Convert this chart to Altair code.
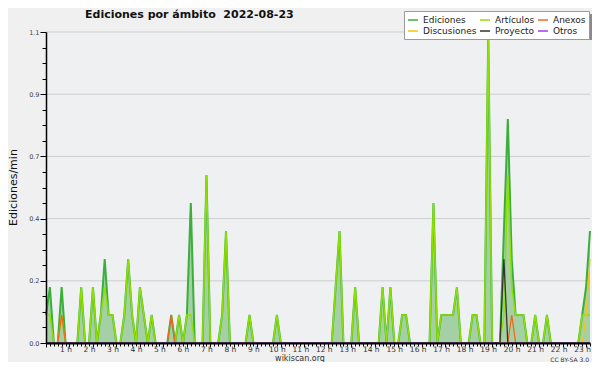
import altair as alt
import pandas as pd

# ---------------- data ----------------
TITLE = "Ediciones por ámbito\u00a0 2022-08-23"
Y_TITLE = "Ediciones/min"
FOOT_CENTER = "wikiscan.org"
FOOT_RIGHT = "CC BY-SA 3.0"

series_names = ["Ediciones", "Artículos", "Anexos", "Discusiones", "Proyecto", "Otros"]
series_colors = ["#3aaf3a", "#8fe000", "#f06a1e", "#f5c518", "#333333", "#9b3cf0"]

# 10-minute bins, 00:00 .. 23:10
minutes = list(range(0, 1400, 10))

ediciones = [
    0.1, 0.2, 0, 0, 0.2, 0,      # 0 h
    0, 0, 0, 0.2, 0, 0,          # 1 h
    0.2, 0, 0.1, 0.3, 0.1, 0.1,  # 2 h
    0, 0, 0.1, 0.3, 0.1, 0,      # 3 h
    0.2, 0.1, 0, 0.1, 0, 0,      # 4 h
    0, 0, 0.1, 0, 0.1, 0,        # 5 h
    0.1, 0.5, 0, 0, 0, 0.6,      # 6 h
    0, 0, 0, 0.1, 0.4, 0,        # 7 h
    0, 0, 0, 0, 0.1, 0,          # 8 h
    0, 0, 0, 0, 0, 0.1,          # 9 h
    0, 0, 0, 0, 0, 0,            # 10 h
    0, 0, 0, 0, 0, 0,            # 11 h
    0, 0, 0.2, 0.4, 0, 0,        # 12 h
    0, 0.2, 0, 0, 0, 0,          # 13 h
    0, 0, 0.2, 0, 0.2, 0,        # 14 h
    0, 0.1, 0.1, 0, 0, 0,        # 15 h
    0, 0, 0, 0.5, 0, 0.1,        # 16 h
    0.1, 0.1, 0.1, 0.2, 0, 0,    # 17 h
    0, 0.1, 0.1, 0, 0, 1.1,      # 18 h
    0, 0, 0, 0.4, 0.8, 0.3,      # 19 h
    0.1, 0.1, 0.1, 0, 0, 0.1,    # 20 h
    0, 0, 0.1, 0, 0, 0,          # 21 h
    0, 0, 0, 0, 0, 0.1,          # 22 h
    0.2, 0.4,                    # 23 h
]
articulos = [
    0.1, 0.1, 0, 0, 0.1, 0,
    0, 0, 0, 0.2, 0, 0,
    0.2, 0, 0.1, 0.2, 0.1, 0.1,
    0, 0, 0.1, 0.3, 0.1, 0,
    0.2, 0.1, 0, 0.1, 0, 0,
    0, 0, 0, 0, 0.1, 0,
    0.1, 0.1, 0, 0, 0, 0.6,
    0, 0, 0, 0.1, 0.4, 0,
    0, 0, 0, 0, 0.1, 0,
    0, 0, 0, 0, 0, 0.1,
    0, 0, 0, 0, 0, 0,
    0, 0, 0, 0, 0, 0,
    0, 0, 0.2, 0.4, 0, 0,
    0, 0.2, 0, 0, 0, 0,
    0, 0, 0.2, 0, 0.2, 0,
    0, 0.1, 0.1, 0, 0, 0,
    0, 0, 0, 0.5, 0, 0.1,
    0.1, 0.1, 0.1, 0.2, 0, 0,
    0, 0.1, 0.1, 0, 0, 1.1,
    0, 0, 0, 0.1, 0.6, 0.2,
    0.1, 0.1, 0.1, 0, 0, 0.1,
    0, 0, 0.1, 0, 0, 0,
    0, 0, 0, 0, 0, 0.1,
    0.1, 0.1,
]
anexos = [
    0, 0, 0, 0, 0.1, 0,
    0, 0, 0, 0, 0, 0,
    0, 0, 0, 0, 0, 0,
    0, 0, 0, 0, 0, 0,
    0, 0, 0, 0, 0, 0,
    0, 0, 0.1, 0, 0, 0,
    0, 0, 0, 0, 0, 0,
    0, 0, 0, 0, 0, 0,
    0, 0, 0, 0, 0, 0,
    0, 0, 0, 0, 0, 0,
    0, 0, 0, 0, 0, 0,
    0, 0, 0, 0, 0, 0,
    0, 0, 0, 0, 0, 0,
    0, 0, 0, 0, 0, 0,
    0, 0, 0, 0, 0, 0,
    0, 0, 0, 0, 0, 0,
    0, 0, 0, 0, 0, 0,
    0, 0, 0, 0, 0, 0,
    0, 0, 0, 0, 0, 0,
    0, 0, 0, 0, 0, 0.1,
    0, 0, 0, 0, 0, 0,
    0, 0, 0, 0, 0, 0,
    0, 0, 0, 0, 0, 0,
    0, 0,
]
discusiones = [
    0, 0, 0, 0, 0, 0,
    0, 0, 0, 0, 0, 0,
    0, 0, 0, 0, 0, 0,
    0, 0, 0, 0, 0, 0,
    0, 0, 0, 0, 0, 0,
    0, 0, 0, 0, 0, 0,
    0, 0, 0, 0, 0, 0,
    0, 0, 0, 0, 0, 0,
    0, 0, 0, 0, 0, 0,
    0, 0, 0, 0, 0, 0,
    0, 0, 0, 0, 0, 0,
    0, 0, 0, 0, 0, 0,
    0, 0, 0, 0, 0, 0,
    0, 0, 0, 0, 0, 0,
    0, 0, 0, 0, 0, 0,
    0, 0, 0, 0, 0, 0,
    0, 0, 0, 0, 0, 0,
    0, 0, 0, 0, 0, 0,
    0, 0, 0, 0, 0, 0,
    0, 0, 0, 0, 0, 0,
    0, 0, 0, 0, 0, 0,
    0, 0, 0, 0, 0, 0,
    0, 0, 0, 0, 0, 0,
    0.1, 0.3,
]
proyecto = [
    0, 0, 0, 0, 0, 0,
    0, 0, 0, 0, 0, 0,
    0, 0, 0, 0, 0, 0,
    0, 0, 0, 0, 0, 0,
    0, 0, 0, 0, 0, 0,
    0, 0, 0, 0, 0, 0,
    0, 0, 0, 0, 0, 0,
    0, 0, 0, 0, 0, 0,
    0, 0, 0, 0, 0, 0,
    0, 0, 0, 0, 0, 0,
    0, 0, 0, 0, 0, 0,
    0, 0, 0, 0, 0, 0,
    0, 0, 0, 0, 0, 0,
    0, 0, 0, 0, 0, 0,
    0, 0, 0, 0, 0, 0,
    0, 0, 0, 0, 0, 0,
    0, 0, 0, 0, 0, 0,
    0, 0, 0, 0, 0, 0,
    0, 0, 0, 0, 0, 0,
    0, 0, 0, 0.3, 0, 0,
    0, 0, 0, 0, 0, 0,
    0, 0, 0, 0, 0, 0,
    0, 0, 0, 0, 0, 0,
    0, 0,
]
otros = [
    0, 0, 0, 0, 0, 0,
    0, 0, 0, 0, 0, 0,
    0, 0, 0, 0, 0, 0,
    0, 0, 0, 0, 0, 0,
    0, 0, 0, 0, 0, 0,
    0, 0, 0, 0, 0, 0,
    0, 0, 0, 0, 0, 0,
    0, 0, 0, 0, 0, 0,
    0, 0, 0, 0, 0, 0,
    0, 0, 0, 0, 0, 0,
    0, 0, 0, 0, 0, 0,
    0, 0, 0, 0, 0, 0,
    0, 0, 0, 0, 0, 0,
    0, 0, 0, 0, 0, 0,
    0, 0, 0, 0, 0, 0,
    0, 0, 0, 0, 0, 0,
    0, 0, 0, 0, 0, 0,
    0, 0, 0, 0, 0, 0,
    0, 0, 0, 0, 0, 0,
    0, 0, 0, 0, 0, 0,
    0, 0, 0, 0, 0, 0,
    0, 0, 0, 0, 0, 0,
    0, 0, 0, 0, 0, 0,
    0, 0,
]

grid_values = [2 / 9, 4 / 9, 6 / 9, 8 / 9, 10 / 9]
y_ticks = [i / 18 for i in range(21)]
x_ticks = list(range(0, 1391, 10))

# ---------------- table ----------------
rows = []
for name, vals in zip(series_names,
                      [ediciones, articulos, anexos, discusiones, proyecto, otros]):
    for m, v in zip(minutes, vals):
        rows.append({"min": m, "serie": name, "v": v})
df = pd.DataFrame(rows)

FONT = "DejaVu Sans"
xscale = alt.Scale(domain=[0, 1390], nice=False, zero=False)
yscale = alt.Scale(domain=[0, 10 / 9], nice=False)

is_major_y = "abs(datum.value*4.5 - round(datum.value*4.5)) < 0.01"
y_axis = alt.Axis(
    values=y_ticks,
    labelExpr=f"{is_major_y} ? format(datum.value, '.1f') : ''",
    labelFont=FONT, labelFontSize=6.5, labelColor="#444",
    tickSize={"condition": {"test": is_major_y, "value": 6}, "value": 4},
    tickColor="black", domainColor="black", domainWidth=1.5,
    labelPadding=1, labelOverlap=False, grid=False, zindex=1,
    title=Y_TITLE, titleFont=FONT, titleFontSize=11, titleFontWeight="normal",
    titleColor="#111", titleX=-33, titleY=155, titleAngle=-90,
    titleAlign="center", titleBaseline="middle",
)
x_axis = alt.Axis(
    values=x_ticks,
    labelExpr="datum.value % 60 == 0 && datum.value > 0 ? (datum.value/60) + ' h' : ''",
    labelFont=FONT, labelFontSize=7.5, labelColor="#333",
    tickSize={"condition": {"test": "datum.value % 60 == 0", "value": 4}, "value": 3},
    tickColor="black", domainColor="black", domainWidth=2,
    labelPadding=-2, labelOffset=-4, labelOverlap=False, labelFlush=False,
    grid=False, zindex=1, title=None,
)

X = alt.X("min:Q", scale=xscale, axis=x_axis)
Y = alt.Y("v:Q", scale=yscale, axis=y_axis)

legend = alt.Legend(
    title=None, orient="none", legendX=358, legendY=-21, columns=3,
    direction="horizontal",
    symbolType="stroke", symbolSize=100, symbolStrokeWidth=1.5,
    labelFont=FONT, labelFontSize=9, labelColor="#222",
    fillColor="white", strokeColor="#9a9a9a", padding=3,
    rowPadding=0, columnPadding=0, labelOffset=4, labelLimit=0, zindex=1,
)
color = alt.Color("serie:N",
                  scale=alt.Scale(domain=series_names, range=series_colors),
                  legend=legend)

grid = alt.Chart(pd.DataFrame({"v": grid_values})).mark_rule(
    color="#cdcdcd", strokeWidth=1
).encode(y=Y)

one = alt.Data(values=[{}])
shadow = alt.Chart(one).mark_rect(color="#8a8a8a").encode(
    x=alt.value(361), x2=alt.value(548), y=alt.value(-18), y2=alt.value(8)
)

base = alt.Chart(df)
area = base.transform_filter(alt.datum.serie == "Ediciones").mark_area(
    color="#a0cda0", opacity=0.95
).encode(x=X, y=Y)

widths = {"Ediciones": 2, "Artículos": 1.5, "Anexos": 1.3,
          "Discusiones": 1.3, "Proyecto": 1.3, "Otros": 1.0}
lines = [
    base.transform_filter(alt.datum.serie == n).mark_line(
        strokeWidth=widths[n]
    ).encode(x=X, y=Y, color=color)
    for n in series_names
]

title = alt.Chart(one).mark_text(
    text=TITLE, align="left", baseline="alphabetic", font=FONT,
    fontSize=11, fontWeight="bold", color="#111"
).encode(x=alt.value(39), y=alt.value(-14))
foot1 = alt.Chart(one).mark_text(
    text=FOOT_CENTER, align="center", baseline="alphabetic", font=FONT,
    fontSize=8, color="#333"
).encode(x=alt.value(254), y=alt.value(329))
foot2 = alt.Chart(one).mark_text(
    text=FOOT_RIGHT, align="right", baseline="alphabetic", font=FONT,
    fontSize=6, color="#333"
).encode(x=alt.value(543), y=alt.value(330))

chart = alt.layer(grid, area, *lines, shadow, title, foot1, foot2).properties(
    width=544, height=311,
    padding={"left": 38, "top": 24, "right": 2, "bottom": 19},
    autosize=alt.AutoSizeParams(type="none"),
    background="#f0f0f0",
).configure_view(fill="#eef0f2", stroke="transparent")

chart.save("out.html", embed_options={"renderer": "svg", "actions": False})
